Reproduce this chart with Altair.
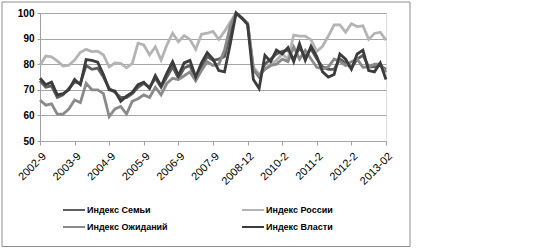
import altair as alt
import pandas as pd

# ---- data ----
tick_labels = ["2002-9", "2003-9", "2004-9", "2005-9", "2006-9", "2007-9",
               "2008-12", "2010-2", "2011-2", "2012-2", "2013-02"]
series_names = ["Индекс Семьи", "Индекс России", "Индекс Ожиданий", "Индекс Власти"]
series_colors = ["#5e5e5e", "#b4b4b4", "#8a8a8a", "#3c3c3c"]

semya = [73.5, 71, 71.5, 67, 68, 70.5, 73, 72.5, 79.5, 78, 78.5, 75, 70.5, 69, 67, 67,
         68.5, 71, 72.5, 71, 74.5, 71, 75, 79, 74.5, 78.5, 79.5, 74, 79, 83, 81.5, 82, 83, 92,
         100, 98, 96, 78, 75, 80, 82, 84, 85, 85.5, 82, 86.5, 83, 86, 82, 79, 78, 78, 82,
         80.5, 78.5, 82, 83.5, 79, 79, 79.5, 78]
rossiya = [79.6, 83.2, 82.9, 81.3, 79.3, 79.6, 81.6, 84.6, 85.8, 84.9, 85.1, 83.6, 78.9,
           80.5, 80.3, 78.6, 80.3, 88.2, 87.5, 83.6, 86.8, 81.6, 87.5, 92.1, 88.8, 91.2, 89.7,
           85.8, 91.7, 92.1, 92.8, 89.7, 92.8, 96.5,
           100, 98, 96, 79, 76, 78, 80, 81.5, 84, 82, 91.4, 91, 91, 89.5, 85, 87, 91, 95.4,
           95.4, 92.5, 95.8, 94.7, 95, 89.7, 92, 92.5, 89.4]
ozhidaniy = [66, 64, 64.5, 60.5, 60.5, 62.5, 66, 65, 72.5, 70, 70, 68.5, 59.5, 62.5, 63.5,
             60.5, 65.5, 66.5, 68, 67, 71, 68, 72.5, 74.5, 74, 75.5, 77, 73.5, 77.5, 81, 79.5,
             80, 85.5, 95,
             100, 98, 96, 78, 75.5, 78, 79.5, 80, 82, 81, 86.8, 82, 85.4, 82, 78.8, 78.2, 79,
             82, 81, 79.5, 81, 82, 78.8, 79, 80, 80, 76.9]
vlasti = [74.5, 72, 73, 68, 68.5, 70, 74, 72, 81.8, 81.5, 80.8, 76, 70, 69.5, 65.5, 67.5, 69,
          72, 73, 70.5, 75.5, 71.5, 76.5, 81, 75.5, 80.5, 81.5, 75, 80.5, 84.5, 82, 77.5, 77, 88,
          100, 98, 95.5, 74, 70.5, 83.5, 81, 85.5, 84, 86.5, 81, 88, 81.5, 87, 83, 77, 75, 76,
          84, 82, 78, 84, 85.5, 77.5, 77, 80.5, 74]

y_ticks = [50, 60, 70, 80, 90, 100]
points_per_label = 6

# ---- long table ----
rows = []
for name, vals in zip(series_names, [semya, rossiya, ozhidaniy, vlasti]):
    for i, v in enumerate(vals):
        rows.append({"i": i, "value": v, "series": name})
df = pd.DataFrame(rows)

n_last = len(semya) - 1
tick_positions = [k * points_per_label for k in range(len(tick_labels))]
label_array = "[" + ",".join("'" + t + "'" for t in tick_labels) + "]"

FONT = "Liberation Sans"

lines = alt.Chart(df).mark_line(strokeWidth=2.8, clip=False).encode(
    x=alt.X("i:Q",
            scale=alt.Scale(domain=[0, n_last], nice=False, zero=False),
            axis=alt.Axis(values=tick_positions,
                          labelExpr=label_array + "[round(datum.value/" + str(points_per_label) + ")]",
                          labelAngle=-45, labelAlign="right", labelBaseline="top",
                          labelPadding=5, labelFontSize=11, labelColor="#000000",
                          labelFont=FONT, grid=False, domain=False,
                          tickSize=4, tickColor="#a0a0a0", tickWidth=1,
                          title=None, labelOverlap=False)),
    y=alt.Y("value:Q",
            scale=alt.Scale(domain=[50, 100], nice=False, zero=False),
            axis=alt.Axis(values=y_ticks, grid=True, gridColor="#a6a6a6", gridWidth=1,
                          domain=True, domainColor="#a0a0a0", tickSize=3,
                          tickColor="#a0a0a0", labelFontSize=10, labelFontWeight="bold",
                          labelColor="#000000", labelFont=FONT, labelPadding=3,
                          title=None)),
    color=alt.Color("series:N",
                    scale=alt.Scale(domain=series_names, range=series_colors),
                    sort=series_names,
                    legend=alt.Legend(title=None, orient="none", legendX=22, legendY=185,
                                      direction="horizontal", columns=2, columnPadding=70,
                                      rowPadding=-2, symbolType="stroke", symbolSize=484,
                                      symbolStrokeWidth=2, labelFontSize=9,
                                      labelFontWeight="bold", labelFont=FONT,
                                      labelColor="#000000", padding=0, labelOffset=1)),
    order=alt.Order("i:Q"),
)

frame = alt.Chart(pd.DataFrame({"a": [0]})).mark_rect(
    fill=None, stroke="#8c8c8c", strokeWidth=1, clip=False
).encode(x=alt.value(-38), x2=alt.value(370), y=alt.value(-11), y2=alt.value(233.5))

chart = alt.layer(frame, lines).properties(
    width=346, height=128,
    autosize=alt.AutoSizeParams(type="none"),
    padding={"left": 40, "top": 13, "right": 172, "bottom": 107},
).configure_view(stroke=None).configure(background="#ffffff")

chart.save("out.html", embed_options={"renderer": "svg", "actions": False})
